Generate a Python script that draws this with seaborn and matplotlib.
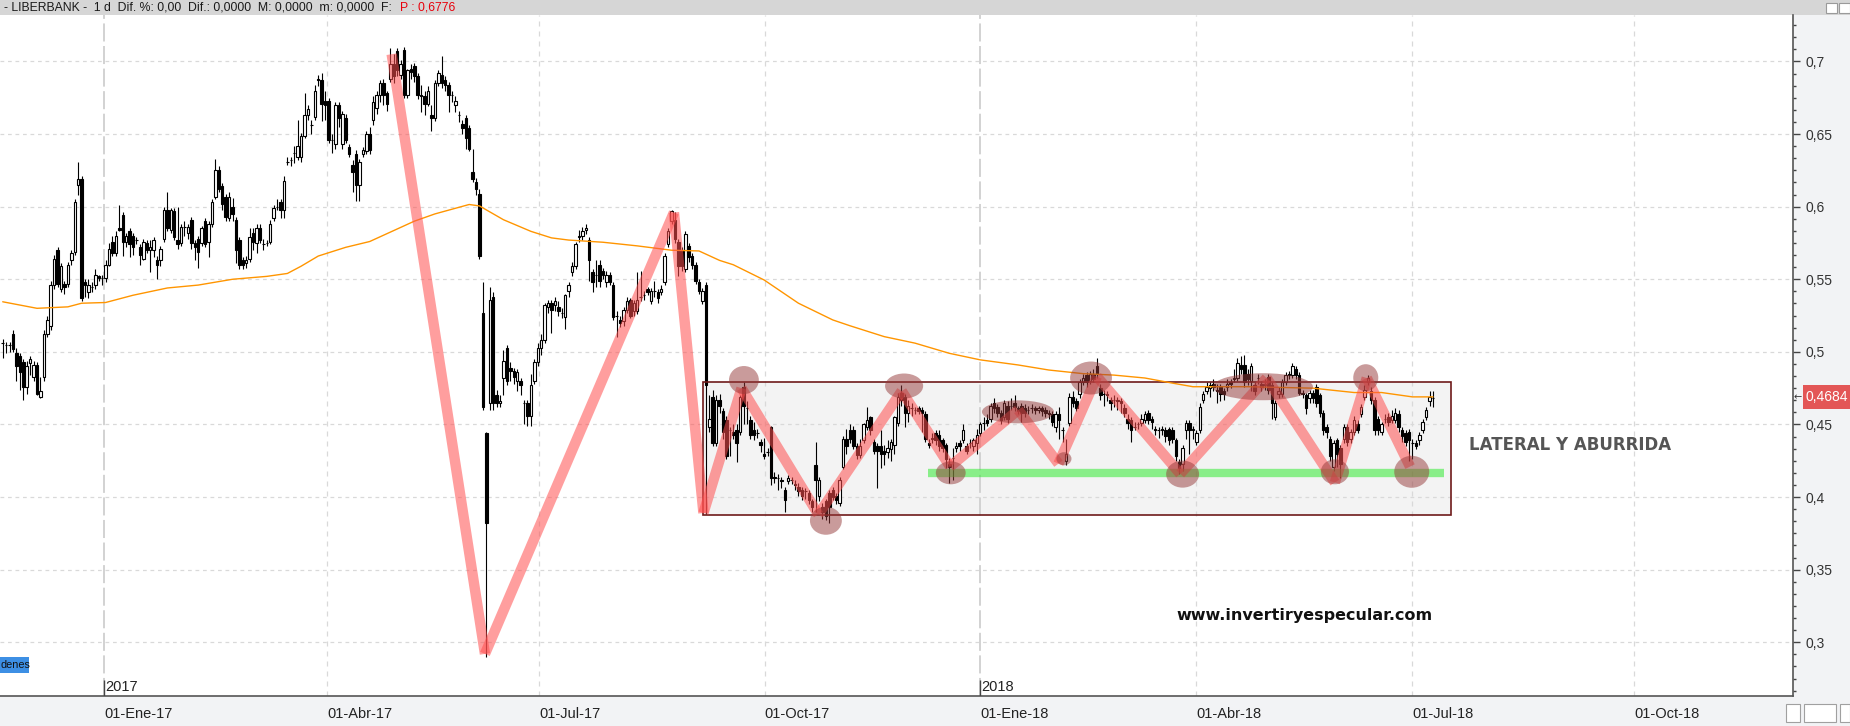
import numpy as np
import pandas as pd
import seaborn as sns
import matplotlib.pyplot as plt
from matplotlib.patches import Rectangle, Ellipse
from matplotlib.ticker import MultipleLocator, AutoMinorLocator, FuncFormatter

# daily candles, price in thousandths of euro
opens = [506, 505, 505, 512, 499, 497, 493, 476, 492, 483,
         491, 469, 483, 512, 518, 546, 570, 543, 547, 547,
         563, 569, 615, 619, 548, 541, 545, 546, 552, 551,
         551, 560, 576, 568, 585, 594, 576, 583, 580, 577,
         572, 564, 575, 570, 570, 563, 563, 578, 598, 584,
         597, 577, 575, 586, 582, 591, 575, 578, 575, 590,
         576, 588, 607, 625, 614, 607, 592, 600, 591, 577,
         563, 561, 564, 582, 575, 585, 574, 575, 576, 592,
         600, 603, 598, 631, 632, 637, 634, 634, 649, 663,
         656, 662, 688, 687, 673, 673, 646, 643, 670, 643,
         661, 641, 629, 636, 615, 636, 638, 650, 660, 668,
         677, 685, 678, 688, 698, 707, 691, 708, 677, 695,
         697, 690, 677, 676, 671, 663, 661, 685, 691, 687,
         684, 677, 670, 663, 657, 661, 654, 624, 617, 609,
         527, 444, 465, 538, 470, 465, 482, 503, 489, 487,
         480, 480, 465, 465, 456, 480, 493, 503, 508, 531,
         534, 532, 531, 527, 524, 542, 555, 559, 579, 580,
         584, 577, 555, 553, 560, 556, 548, 553, 546, 525,
         522, 521, 529, 536, 528, 528, 538, 539, 543, 535,
         542, 541, 541, 548, 574, 590, 591, 576, 570, 557,
         573, 566, 560, 548, 535, 546, 448, 469, 437, 467,
         459, 453, 446, 445, 446, 445, 476, 461, 453, 446,
         444, 438, 430, 431, 448, 414, 413, 412, 405, 411,
         412, 409, 407, 405, 404, 403, 397, 422, 401, 393,
         397, 403, 405, 401, 396, 421, 440, 446, 446, 435,
         429, 439, 448, 455, 438, 435, 435, 432, 431, 433,
         436, 451, 472, 469, 458, 461, 460, 461, 460, 457,
         437, 441, 444, 443, 439, 436, 423, 427, 434, 437,
         439, 435, 437, 435, 437, 444, 451, 453, 454, 465,
         462, 458, 455, 463, 463, 465, 461, 463, 461, 460,
         461, 461, 460, 461, 460, 458, 457, 448, 457, 446,
         425, 451, 469, 466, 471, 479, 484, 480, 485, 490,
         475, 471, 471, 467, 467, 467, 466, 461, 454, 453,
         448, 450, 451, 453, 458, 454, 447, 446, 447, 446,
         447, 446, 439, 424, 423, 446, 451, 446, 438, 446,
         467, 473, 475, 478, 474, 476, 473, 476, 479, 481,
         482, 491, 491, 485, 480, 477, 482, 478, 477, 483,
         477, 455, 471, 471, 479, 485, 484, 488, 484, 472,
         470, 468, 472, 476, 470, 458, 448, 440, 421, 439,
         434, 440, 448, 440, 445, 450, 457, 469, 479, 473,
         467, 454, 445, 454, 455, 453, 453, 457, 446, 444,
         445, 437, 437, 439, 446, 455, 466, 468]
highs = [509, 507, 507, 515, 503, 499, 495, 494, 497, 494,
         493, 483, 515, 525, 549, 567, 572, 561, 549, 562,
         570, 605, 631, 621, 550, 550, 548, 557, 553, 553,
         563, 575, 580, 583, 601, 596, 582, 585, 582, 579,
         574, 578, 577, 577, 579, 566, 573, 600, 610, 599,
         599, 600, 588, 590, 588, 593, 577, 580, 587, 592,
         590, 605, 633, 628, 616, 609, 610, 606, 593, 579,
         565, 566, 585, 585, 588, 588, 578, 577, 591, 601,
         605, 605, 621, 634, 634, 642, 660, 651, 678, 670,
         660, 684, 691, 692, 680, 675, 650, 672, 672, 666,
         664, 643, 632, 639, 633, 641, 652, 655, 676, 680,
         687, 688, 680, 709, 705, 709, 701, 710, 695, 698,
         699, 692, 684, 680, 683, 670, 687, 694, 704, 690,
         686, 680, 676, 666, 660, 663, 656, 640, 620, 612,
         548, 445, 545, 541, 474, 470, 501, 505, 493, 489,
         488, 482, 467, 467, 485, 495, 506, 512, 534, 536,
         536, 538, 535, 530, 540, 548, 562, 576, 584, 586,
         588, 579, 557, 563, 563, 558, 556, 555, 548, 528,
         525, 531, 538, 537, 536, 555, 556, 542, 545, 544,
         549, 543, 546, 568, 585, 598, 596, 578, 572, 583,
         575, 568, 562, 550, 544, 548, 470, 474, 470, 471,
         461, 456, 448, 450, 450, 470, 479, 466, 456, 452,
         447, 440, 441, 434, 449, 417, 416, 414, 407, 415,
         414, 412, 410, 407, 406, 405, 399, 438, 414, 396,
         399, 405, 407, 403, 414, 442, 447, 450, 449, 437,
         440, 451, 462, 456, 440, 437, 446, 436, 439, 440,
         456, 472, 477, 471, 467, 465, 462, 463, 462, 459,
         440, 444, 446, 446, 441, 437, 427, 434, 438, 439,
         450, 437, 440, 441, 447, 452, 455, 457, 465, 468,
         464, 460, 467, 466, 468, 470, 463, 465, 464, 463,
         464, 463, 463, 463, 462, 460, 459, 459, 462, 448,
         440, 472, 473, 468, 481, 485, 486, 487, 488, 496,
         478, 474, 473, 469, 470, 469, 468, 464, 457, 455,
         452, 452, 457, 459, 460, 456, 449, 448, 449, 448,
         448, 448, 441, 426, 436, 453, 453, 449, 446, 465,
         473, 479, 479, 481, 478, 478, 475, 481, 481, 488,
         496, 497, 498, 488, 492, 479, 485, 480, 481, 485,
         479, 467, 476, 481, 486, 487, 492, 490, 486, 474,
         472, 474, 474, 478, 472, 460, 450, 442, 439, 441,
         436, 450, 450, 447, 456, 453, 464, 477, 484, 476,
         469, 456, 452, 457, 458, 460, 461, 460, 448, 446,
         447, 440, 439, 445, 454, 462, 473, 473]
lows = [496, 499, 500, 500, 480, 474, 467, 471, 484, 480,
        470, 468, 480, 510, 515, 543, 545, 541, 540, 545,
        560, 567, 608, 535, 538, 537, 541, 543, 549, 546,
        548, 559, 566, 566, 583, 566, 572, 565, 567, 574,
        560, 563, 568, 555, 565, 550, 559, 576, 583, 582,
        577, 571, 573, 580, 578, 571, 563, 558, 573, 572,
        565, 586, 605, 610, 598, 590, 590, 590, 561, 557,
        557, 558, 562, 570, 568, 575, 570, 573, 574, 590,
        598, 592, 592, 629, 628, 630, 632, 631, 647, 660,
        650, 660, 683, 659, 660, 644, 637, 640, 655, 640,
        644, 634, 610, 604, 604, 634, 636, 636, 656, 664,
        672, 670, 666, 686, 685, 690, 688, 675, 675, 688,
        686, 674, 665, 663, 669, 652, 659, 683, 682, 680,
        665, 672, 665, 658, 650, 640, 638, 617, 608, 564,
        460, 290, 460, 460, 462, 462, 470, 477, 480, 478,
        473, 470, 450, 449, 449, 478, 490, 498, 506, 527,
        513, 528, 525, 523, 516, 538, 552, 557, 576, 577,
        581, 549, 541, 545, 545, 550, 545, 546, 522, 510,
        517, 518, 527, 523, 525, 526, 535, 536, 539, 533,
        538, 534, 539, 546, 572, 588, 575, 552, 556, 555,
        562, 557, 547, 540, 533, 388, 445, 435, 435, 458,
        440, 426, 428, 440, 424, 443, 450, 450, 440, 439,
        441, 431, 426, 428, 408, 410, 405, 406, 390, 409,
        409, 405, 401, 398, 399, 395, 390, 390, 397, 385,
        384, 382, 398, 395, 394, 419, 430, 437, 433, 426,
        427, 437, 446, 443, 430, 406, 420, 422, 427, 425,
        430, 449, 463, 448, 452, 456, 457, 457, 445, 438,
        434, 437, 436, 432, 431, 420, 410, 412, 431, 432,
        437, 430, 434, 432, 430, 442, 446, 449, 452, 458,
        455, 450, 453, 451, 460, 459, 457, 452, 455, 457,
        458, 457, 458, 456, 455, 454, 449, 445, 440, 438,
        422, 449, 462, 459, 468, 477, 476, 478, 479, 482,
        467, 463, 466, 460, 462, 460, 458, 455, 447, 438,
        446, 447, 449, 451, 450, 447, 443, 441, 443, 438,
        436, 437, 425, 416, 418, 440, 430, 440, 436, 444,
        465, 471, 469, 473, 465, 466, 467, 473, 475, 479,
        480, 485, 476, 477, 473, 470, 478, 473, 474, 471,
        454, 453, 468, 469, 477, 481, 482, 481, 470, 468,
        457, 465, 465, 462, 455, 443, 441, 425, 418, 421,
        413, 437, 435, 437, 443, 444, 455, 467, 477, 464,
        443, 443, 443, 451, 449, 451, 451, 445, 438, 435,
        425, 426, 433, 436, 444, 453, 463, 462]
closes = [506, 505, 505, 502, 490, 486, 476, 490, 495, 491,
          471, 473, 512, 522, 546, 564, 547, 559, 545, 560,
          568, 603, 619, 537, 546, 546, 545, 553, 551, 551,
          560, 571, 568, 580, 584, 576, 580, 574, 572, 577,
          567, 576, 570, 572, 577, 560, 571, 598, 585, 598,
          579, 574, 586, 586, 586, 575, 572, 569, 585, 574,
          588, 603, 625, 612, 602, 593, 607, 595, 570, 560,
          560, 563, 579, 576, 585, 577, 574, 575, 588, 599,
          600, 598, 618, 631, 632, 637, 642, 649, 663, 667,
          656, 680, 687, 671, 670, 646, 646, 670, 661, 664,
          646, 636, 624, 615, 631, 639, 650, 639, 672, 677,
          685, 677, 671, 698, 690, 694, 698, 677, 694, 693,
          690, 677, 676, 671, 680, 661, 685, 692, 685, 684,
          677, 677, 673, 663, 654, 647, 640, 619, 612, 566,
          462, 382, 536, 465, 465, 466, 494, 480, 487, 483,
          486, 477, 465, 456, 477, 493, 503, 508, 532, 534,
          529, 535, 528, 527, 539, 546, 559, 574, 580, 583,
          585, 563, 548, 553, 549, 553, 553, 548, 524, 525,
          520, 529, 535, 525, 534, 536, 538, 539, 541, 542,
          542, 537, 543, 566, 583, 597, 578, 559, 559, 581,
          565, 560, 549, 542, 542, 477, 454, 437, 467, 463,
          445, 428, 446, 443, 437, 469, 463, 461, 443, 443,
          444, 436, 428, 431, 413, 413, 413, 411, 398, 413,
          412, 408, 404, 401, 404, 398, 393, 412, 412, 390,
          387, 393, 400, 398, 412, 440, 435, 440, 435, 429,
          435, 450, 453, 446, 432, 432, 430, 430, 434, 438,
          455, 469, 467, 458, 463, 461, 460, 459, 458, 440,
          436, 440, 439, 435, 434, 426, 421, 427, 435, 435,
          446, 432, 437, 439, 443, 450, 451, 451, 463, 461,
          458, 453, 465, 454, 463, 462, 459, 458, 458, 460,
          461, 460, 461, 459, 458, 457, 452, 457, 453, 446,
          430, 469, 465, 461, 479, 482, 479, 485, 481, 485,
          470, 471, 470, 465, 467, 466, 465, 458, 451, 446,
          448, 450, 454, 457, 453, 452, 446, 446, 446, 442,
          439, 440, 428, 420, 434, 451, 446, 447, 444, 462,
          471, 476, 477, 476, 473, 471, 471, 478, 478, 482,
          492, 488, 479, 481, 490, 473, 482, 476, 478, 474,
          465, 465, 473, 479, 484, 484, 490, 484, 472, 471,
          461, 472, 468, 465, 458, 446, 445, 428, 437, 430,
          423, 448, 438, 445, 453, 446, 462, 474, 482, 467,
          446, 446, 450, 454, 452, 456, 458, 448, 442, 438,
          439, 437, 435, 443, 452, 460, 469, 468]

# orange moving average, sampled along the bars
ma_bar = [0, 10, 19, 23, 30, 38, 48, 57, 67, 77, 83, 87, 92, 100, 107, 120, 126,
          136, 139, 146, 154, 160, 165, 175, 185, 195, 203, 209, 213, 222, 232,
          242, 247, 257, 266, 276, 285, 296, 305, 315, 324, 333, 341, 347, 363,
          382, 394, 402, 411, 417]
ma_val = [534.5, 530, 531, 533.5, 534, 539, 544, 546, 550, 552, 554, 559, 566,
          572, 576, 590, 595, 601.5, 600.5, 591, 583, 578.5, 577, 575.5, 573, 570,
          569.5, 563, 560, 549.5, 533.5, 522, 518, 510.5, 506, 499, 494.5, 491,
          487.5, 485, 484, 482, 478.5, 476, 476, 475, 472, 472, 469, 469]

# hand drawn zigzag
zig_bar = [113.4, 140.6, 195.7, 204.3, 215.4, 237.8, 262.1, 276.2, 296.1, 307.8,
           319.0, 343.3, 368.5, 388.4, 397.7, 410.3]
zig_val = [0.705, 0.292, 0.596, 0.389, 0.475, 0.388, 0.473, 0.421, 0.460, 0.423,
           0.483, 0.416, 0.482, 0.410, 0.482, 0.421]

# highlighted turning points (centre bar, price, width in bars, height in price)
ell_bar = [216.1, 240.0, 262.8, 276.4, 296.0, 309.4, 317.3, 367.4, 344.0, 388.4, 397.4, 410.8]
ell_val = [0.4806, 0.3837, 0.4765, 0.4167, 0.4587, 0.4264, 0.4820, 0.4760, 0.4158, 0.4174, 0.4822, 0.4174]
ell_w = [8.7, 9.3, 11.1, 8.7, 21.0, 4.4, 12.2, 29.2, 9.6, 8.2, 7.3, 10.2]
ell_h = [0.0193, 0.0193, 0.0172, 0.0158, 0.0158, 0.009, 0.0227, 0.0186, 0.0186, 0.0172, 0.0186, 0.022]

box_left, box_right = 204.1, 422.2
box_low, box_high = 0.3877, 0.4795
green_from, green_to, green_val = 269.7, 420.3, 0.4167

tick_pos = [29.5, 94.6, 156.4, 222.2, 284.9, 347.9, 410.9, 475.6]
tick_labels = ['01-Ene-17', '01-Abr-17', '01-Jul-17', '01-Oct-17',
               '01-Ene-18', '01-Abr-18', '01-Jul-18', '01-Oct-18']
year_pos = [29.5, 284.9]
year_labels = ['2017', '2018']
last_price = 0.4684

W, H = 1850, 726
sns.set_style('white')
plt.rcParams['font.family'] = ['Liberation Sans', 'DejaVu Sans']

df = pd.DataFrame({'open': opens, 'high': highs, 'low': lows, 'close': closes}) / 1000
df['bar'] = np.arange(len(df))
up = df['close'] >= df['open']

fig = plt.figure(figsize=(W / 100, H / 100), dpi=100, facecolor='#f2f3f5')
ax = fig.add_axes([0, 30 / H, 1793 / W, 681 / H])
ax.set_facecolor('white')
ax.set_axisbelow(True)

# box of the lateral range
ax.add_patch(Rectangle((box_left, box_low), box_right - box_left, box_high - box_low,
                       facecolor='#f3f3f3', edgecolor='none', zorder=0.3))
ax.add_patch(Rectangle((box_left, box_low), box_right - box_left, box_high - box_low,
                       fill=False, edgecolor='#6e1a1a', lw=1.2, zorder=2.6))

# grid
ax.grid(axis='y', which='major', color='#d9d9d9', linestyle=(0, (3, 3)), lw=0.9)
for p in tick_pos:
    if p in year_pos:
        ax.axvline(p, color='#cfcfcf', linestyle=(0, (10, 2.5)), lw=1.3, zorder=0.6)
    else:
        ax.axvline(p, color='#d9d9d9', linestyle=(0, (4, 4)), lw=0.9, zorder=0.6)

# candles
ax.vlines(df['bar'], df['low'], df['high'], color='black', lw=0.8, zorder=2)
ax.bar(df['bar'][up], (df['close'] - df['open'])[up], bottom=df['open'][up], width=0.72,
       facecolor='white', edgecolor='black', lw=0.8, zorder=2.2)
ax.bar(df['bar'][~up], (df['open'] - df['close'])[~up], bottom=df['close'][~up], width=0.72,
       facecolor='black', edgecolor='black', lw=0.8, zorder=2.2)

sns.lineplot(x=np.array(ma_bar), y=np.array(ma_val) / 1000, ax=ax, color='#ff9500',
             linewidth=1.0, zorder=3)

ax.hlines(green_val, green_from, green_to, color='#33ea33', alpha=0.55, lw=6, zorder=4)
for k in range(len(zig_bar) - 1):
    ax.plot(zig_bar[k:k + 2], zig_val[k:k + 2], color='#ff4f4f', alpha=0.55, lw=7.5,
            solid_capstyle='butt', zorder=5)
for b, v, w, h in zip(ell_bar, ell_val, ell_w, ell_h):
    ax.add_patch(Ellipse((b, v), w, h, facecolor='#943838', alpha=0.5, lw=0, zorder=6))

ax.text(427.5, 0.4358, 'LATERAL Y ABURRIDA', fontsize=12, fontweight='bold',
        color='#555555', va='center', family=['DejaVu Sans'])
ax.text(342.1, 0.3187, 'www.invertiryespecular.com', fontsize=11.5, fontweight='bold',
        color='#111111', va='center', family=['DejaVu Sans'])

ax.set_xlim(-0.79, 521.96)
ax.set_ylim(0.2630, 0.7320)
y0 = 0.2630

# axes styling
ax.yaxis.tick_right()
ax.yaxis.set_major_locator(MultipleLocator(0.05))
ax.yaxis.set_minor_locator(AutoMinorLocator(6))
ax.yaxis.set_major_formatter(FuncFormatter(
    lambda v, p: f'{v:.2f}'.rstrip('0').rstrip('.').replace('.', ',')))
ax.tick_params(axis='y', which='major', length=5, width=1, color='#444', pad=4,
               labelsize=10, labelcolor='#333333')
ax.tick_params(axis='y', which='minor', length=2.5, width=1, color='#444')
ax.set_xticks(tick_pos)
ax.set_xticklabels(tick_labels, ha='left')
ax.tick_params(axis='x', length=6, width=1, color='#444', pad=2, labelsize=10.5,
               labelcolor='#222222')
for s in ['top', 'left']:
    ax.spines[s].set_visible(False)
for s in ['bottom', 'right']:
    ax.spines[s].set_color('#555555')
    ax.spines[s].set_linewidth(1.2)
ax.set_xlabel('')
ax.set_ylabel('')

ax.vlines(year_pos, y0, y0 + 0.011, color='#444', lw=1, zorder=3)
for p, t in zip(year_pos, year_labels):
    ax.text(p + 0.5, y0 + 0.0015, t, fontsize=10.5, color='#222222', va='bottom', ha='left')

# header bar
fig.patches.append(Rectangle((0, (H - 15) / H), 1, 15 / H, transform=fig.transFigure,
                             facecolor='#d6d6d6', edgecolor='none', zorder=-1))
fig.text(4 / W, (H - 7.5) / H,
         '- LIBERBANK -  1 d  Dif. %: 0,00  Dif.: 0,0000  M: 0,0000  m: 0,0000  F:',
         fontsize=8.8, va='center', color='#1a1a1a')
fig.text(400 / W, (H - 7.5) / H, 'P : 0,6776', fontsize=8.8, va='center', color='#e8000b')
for bx in [1826, 1839]:
    fig.patches.append(Rectangle((bx / W, (H - 13) / H), 11 / W, 10 / H, transform=fig.transFigure,
                                 facecolor='white', edgecolor='#9a9a9a', lw=0.8))

# last price tag
fig.patches.append(Rectangle((1803 / W, (H - 409) / H), 47 / W, 24 / H, transform=fig.transFigure,
                             facecolor='#e35656', edgecolor='none'))
fig.text(1805 / W, (H - 397) / H, f'{last_price:.4f}'.replace('.', ','), color='white',
         fontsize=10, va='center')
fig.text(1794 / W, (H - 397) / H, '\u2190', fontsize=7, color='#333333', va='center',
         family=['DejaVu Sans'])

# order panel tab
fig.patches.append(Rectangle((0, (H - 673) / H), 29 / W, 16 / H, transform=fig.transFigure,
                             facecolor='#3d8fe4', edgecolor='none'))
fig.text(0.5 / W, (H - 665) / H, 'denes', fontsize=7.8, va='center', color='#111111')

# small buttons bottom right
for bx, bw in [(1786, 14), (1804, 32), (1840, 10)]:
    fig.patches.append(Rectangle((bx / W, (H - 722) / H), bw / W, 18 / H, transform=fig.transFigure,
                                 facecolor='white', edgecolor='#a0a0a0', lw=0.8))

fig.savefig('out.png', dpi=100, facecolor=fig.get_facecolor())
